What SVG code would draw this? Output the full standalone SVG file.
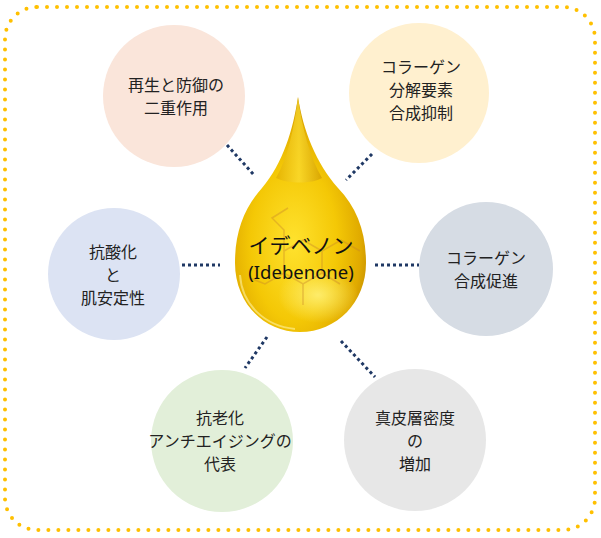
<svg xmlns="http://www.w3.org/2000/svg" width="601" height="538" viewBox="0 0 601 538">
<defs>
<style>
.lbl{font-family:"Noto Sans CJK JP","Noto Sans",sans-serif;font-size:16px;fill:#222;text-anchor:middle}
.conn{stroke:#1F3864;stroke-width:3;stroke-dasharray:3 3;fill:none}
.mol{stroke:#C8862A;stroke-width:1.5;fill:none;opacity:0.4}
</style>
<radialGradient id="dropG" cx="0.45" cy="0.62" r="0.6">
<stop offset="0" stop-color="#FFE22E"/>
<stop offset="0.55" stop-color="#F4C806"/>
<stop offset="0.85" stop-color="#E0AA00"/>
<stop offset="1" stop-color="#C48E00"/>
</radialGradient>
<linearGradient id="tipG" x1="0" y1="0" x2="1" y2="0">
<stop offset="0" stop-color="#E2AE00"/>
<stop offset="0.5" stop-color="#FADA30"/>
<stop offset="1" stop-color="#D29C00"/>
</linearGradient>
<radialGradient id="glow" cx="0.5" cy="0.5" r="0.5">
<stop offset="0" stop-color="#FFF27A" stop-opacity="0.85"/>
<stop offset="1" stop-color="#FFF27A" stop-opacity="0"/>
</radialGradient>
</defs>
<rect x="5" y="7" width="590" height="523" rx="32" ry="32" fill="none" stroke="#FFC000" stroke-width="4" stroke-linecap="round" stroke-dasharray="0 10"/>
<g id="connectors">
<line class="conn" x1="227" y1="145" x2="254" y2="175"/>
<line class="conn" x1="372" y1="154" x2="346" y2="180"/>
<line class="conn" x1="182" y1="265" x2="220" y2="265"/>
<line class="conn" x1="375" y1="265" x2="419" y2="265"/>
<line class="conn" x1="267" y1="337" x2="245" y2="368"/>
<line class="conn" x1="341" y1="341" x2="375" y2="377"/>
</g>
<g id="drop">
<path d="M298,97 C303,130 316,163 338,188 C357,208 366,232 366,263 C366,302 337,332 300,332 C263,332 235,302 235,263 C235,232 244,208 262,188 C283,163 293,130 298,97 Z" fill="url(#dropG)"/>
<path d="M298,97 C302,128 310,158 322,178 C312,184 288,184 276,178 C288,158 294,128 298,97 Z" fill="url(#tipG)" opacity="0.75"/>
<ellipse cx="318" cy="295" rx="40" ry="28" fill="url(#glow)"/>
<path d="M240,275 C242,305 265,326 295,329" stroke="#FFF3A0" stroke-width="2" fill="none" opacity="0.6"/>
<g class="mol">
<polygon points="303,240 322,251 322,273 303,284 284,273 284,251"/>
<polyline points="322,251 341,240 360,251"/>
<polyline points="303,284 303,305"/>
<polyline points="284,251 284,230 272,218 288,208"/>
<polyline points="284,273 265,284 250,278"/>
<polyline points="322,273 340,284"/>
</g>
<text x="301" y="253" style="font-family:'Noto Sans CJK JP','Noto Sans',sans-serif;font-size:21px;fill:#111;text-anchor:middle">イデベノン</text>
<text x="301" y="279" style="font-family:'Noto Sans','Noto Sans CJK JP',sans-serif;font-size:18.5px;fill:#111;text-anchor:middle">(Idebenone)</text>
</g>
<g id="n1">
<circle cx="174" cy="96" r="71" fill="#FAE5DA"/>
<text class="lbl" x="176" y="91">再生と防御の</text>
<text class="lbl" x="176" y="114">二重作用</text>
</g>
<g id="n2">
<circle cx="419" cy="93" r="70" fill="#FFF0CF"/>
<text class="lbl" x="421" y="73">コラーゲン</text>
<text class="lbl" x="421" y="96">分解要素</text>
<text class="lbl" x="421" y="119">合成抑制</text>
</g>
<g id="n3">
<circle cx="114" cy="274" r="66" fill="#DCE3F3"/>
<text class="lbl" x="113" y="258">抗酸化</text>
<text class="lbl" x="113" y="281">と</text>
<text class="lbl" x="113" y="304">肌安定性</text>
</g>
<g id="n4">
<circle cx="222" cy="441" r="71" fill="#E2EFD9"/>
<text class="lbl" x="220" y="424">抗老化</text>
<text class="lbl" x="220" y="447">アンチエイジングの</text>
<text class="lbl" x="220" y="470">代表</text>
</g>
<g id="n5">
<circle cx="486" cy="269" r="67" fill="#D6DCE4"/>
<text class="lbl" x="486" y="264">コラーゲン</text>
<text class="lbl" x="486" y="287">合成促進</text>
</g>
<g id="n6">
<circle cx="415" cy="440" r="71" fill="#E7E7E7"/>
<text class="lbl" x="415" y="424">真皮層密度</text>
<text class="lbl" x="415" y="447">の</text>
<text class="lbl" x="415" y="470">増加</text>
</g>
</svg>
